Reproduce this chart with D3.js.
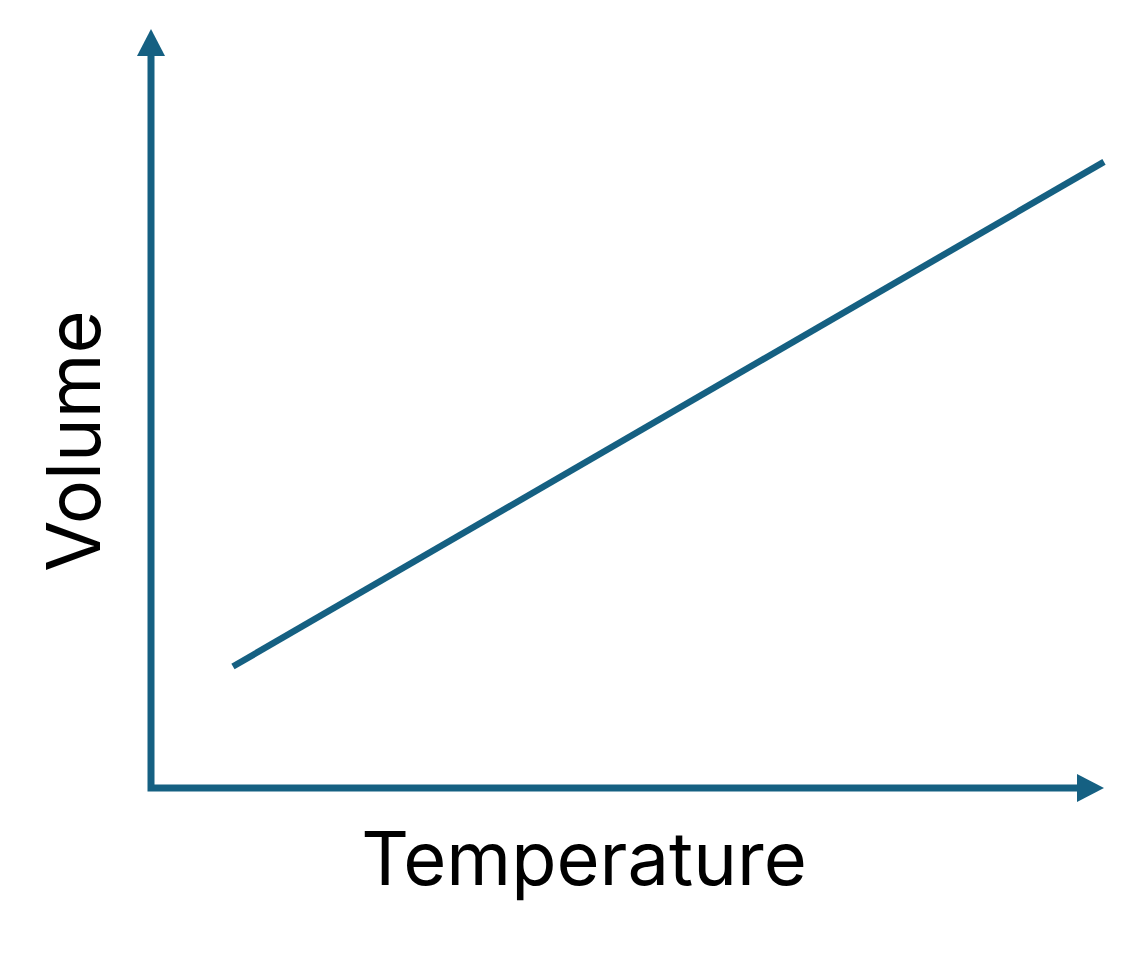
<!DOCTYPE html>
<html>
<head>
<meta charset="utf-8">
<script src="https://cdn.jsdelivr.net/npm/d3@7"></script>
<style>
html,body{margin:0;padding:0;background:#fff;}
svg{display:block;}
</style>
</head>
<body>
<svg id="chart" width="1133" height="962"></svg>
<script>
const temperature = [8.6, 100];
const volume = [16, 82.5];
const xLabel = "Temperature";
const yLabel = "Volume";

const color = "#156082";
const svg = d3.select("#chart");
const x = d3.scaleLinear().domain([0, 100]).range([151, 1104]);
const y = d3.scaleLinear().domain([0, 100]).range([788, 29]);

const head = 27, half = 14;
// axes shafts
svg.append("path")
  .attr("d", `M${x(0)},${y(100) + head - 1}L${x(0)},${y(0)}L${x(100) - head + 1},${y(0)}`)
  .attr("fill", "none").attr("stroke", color).attr("stroke-width", 7)
  .attr("stroke-linejoin", "miter").attr("stroke-linecap", "square");
// arrow heads
svg.append("path")
  .attr("d", `M${x(0)},${y(100)}L${x(0) + half},${y(100) + head}L${x(0) - half},${y(100) + head}Z`)
  .attr("fill", color);
svg.append("path")
  .attr("d", `M${x(100)},${y(0)}L${x(100) - head},${y(0) - half}L${x(100) - head},${y(0) + half}Z`)
  .attr("fill", color);

// data line
const pts = temperature.map((t, i) => [t, volume[i]]);
svg.append("path")
  .datum(pts)
  .attr("d", d3.line().x(d => x(d[0])).y(d => y(d[1])))
  .attr("fill", "none").attr("stroke", color).attr("stroke-width", 6.5);

// labels
svg.append("text")
  .attr("x", 584).attr("y", 885)
  .attr("text-anchor", "middle")
  .attr("font-family", "Inter, 'Open Sans', sans-serif")
  .attr("font-size", 74)
  .attr("fill", "#000")
  .text(xLabel);
svg.append("text")
  .attr("transform", "translate(100,441) rotate(-90)")
  .attr("text-anchor", "middle")
  .attr("font-family", "Inter, 'Open Sans', sans-serif")
  .attr("font-size", 74)
  .attr("fill", "#000")
  .text(yLabel);
</script>
</body>
</html>
